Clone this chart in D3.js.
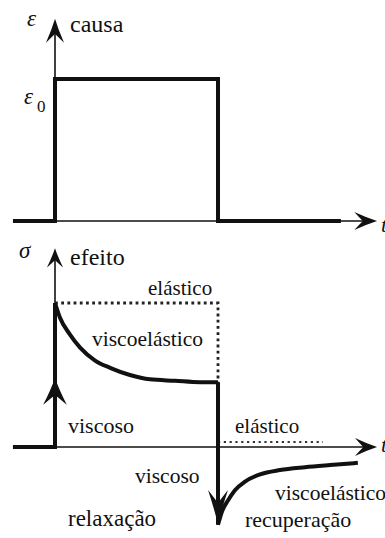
<!DOCTYPE html>
<html>
<head>
<meta charset="utf-8">
<script src="https://cdn.jsdelivr.net/npm/d3@7"></script>
<style>
  svg text { font-family: "Liberation Serif", serif !important; }
</style>
</head>
<body style="margin:0">
<svg id="fig" width="385" height="538"></svg>
<script>
// Time axis extent (arbitrary time units, load applied from t = 0 to t = 5)
const timeAxis = [-1.29, 9.88];

// Cause: applied strain step (ε / ε0)
const causeT      = [-1.29, 0, 0, 5, 5, 8.77];
const causeStrain = [0, 0, 1, 1, 0, 0];

// Effect: stress response (σ / σ_elastic)
const riseT = [-1.29, 0, 0];
const riseS = [0, 0, 1];
const relaxT = [0, 0.15, 0.46, 0.77, 1.23, 1.69, 2.30, 2.91, 3.68, 4.45, 5.00];
const relaxS = [1.00, 0.90, 0.78, 0.69, 0.60, 0.55, 0.50, 0.47, 0.46, 0.45, 0.45];
const dropT = [5, 5];
const dropS = [0.45, -0.54];
const recovT = [5.00, 5.12, 5.31, 5.52, 5.83, 6.29, 6.90, 7.67, 8.44, 9.29];
const recovS = [-0.54, -0.45, -0.37, -0.30, -0.24, -0.19, -0.16, -0.14, -0.125, -0.11];

// Ideal elastic response
const elasticT = [0, 5, 5];
const elasticS = [1, 1, 0];
const elasticRecT = [5, 8.22];
const elasticRecS = [0, 0];

// Arrow markers along the response path
const arrowT = [0, 5];
const arrowS = [0.48, -0.54];
const arrowDir = ["up", "down"];

const svg = d3.select("#fig");

const x = d3.scaleLinear().domain([0, 5]).range([55, 218]);
const yTop = d3.scaleLinear().domain([0, 1]).range([221, 79]);
const yBot = d3.scaleLinear().domain([0, 1]).range([447, 303]);

const zip = (a, b) => a.map((v, i) => [v, b[i]]);

// stealth-style arrowhead pointing to +x, tip at origin
const headPath = "M0,0 Q-11,-3.5 -24,-9.5 Q-18,-3 -15,0 Q-18,3 -24,9.5 Q-11,3.5 0,0 Z";

function arrowHead(g, px, py, angle, sx, sy) {
  g.append("path")
    .attr("d", headPath)
    .attr("fill", "#111")
    .attr("transform", `translate(${px},${py}) rotate(${angle}) scale(${sx},${sy})`);
}

function axes(y, yTopVal, sx, sy, vsx, vsy) {
  const g = svg.append("g");
  const x1 = x(timeAxis[1]);
  g.append("line")
    .attr("x1", x(0)).attr("x2", x1 - 6)
    .attr("y1", y(0)).attr("y2", y(0))
    .attr("stroke", "#111").attr("stroke-width", 1.6);
  arrowHead(g, x1, y(0), 0, sx, sy);
  const yt = y(yTopVal);
  g.append("line")
    .attr("x1", x(0)).attr("x2", x(0))
    .attr("y1", y(0)).attr("y2", yt + 6)
    .attr("stroke", "#111").attr("stroke-width", 1.6);
  arrowHead(g, x(0), yt, -90, vsx, vsy);
  return g;
}

// ---- Top panel: cause ----
axes(yTop, 1.425, 0.95, 0.95, 1.0, 0.95);

const lineTop = d3.line().x(d => x(d[0])).y(d => yTop(d[1]));
svg.append("path")
  .attr("d", lineTop(zip(causeT, causeStrain)))
  .attr("fill", "none").attr("stroke", "#111")
  .attr("stroke-width", 4).attr("stroke-linejoin", "miter");

// ---- Bottom panel: effect ----
axes(yBot, 1.38, 0.92, 0.95, 0.8, 0.85);

const lineBot = d3.line().x(d => x(d[0])).y(d => yBot(d[1]));
const smoothBot = d3.line().x(d => x(d[0])).y(d => yBot(d[1])).curve(d3.curveMonotoneX);

// elastic (dotted)
svg.append("path")
  .attr("d", lineBot(zip(elasticT, elasticS)))
  .attr("fill", "none").attr("stroke", "#222")
  .attr("stroke-width", 2.8).attr("stroke-dasharray", "2.8 3.4");
svg.append("path")
  .attr("d", lineBot(zip(elasticRecT, elasticRecS)))
  .attr("transform", "translate(0,-5)")
  .attr("fill", "none").attr("stroke", "#333")
  .attr("stroke-width", 2.2).attr("stroke-dasharray", "2.2 3.6");

function thickPath(d) {
  return svg.append("path").attr("d", d)
    .attr("fill", "none").attr("stroke", "#111")
    .attr("stroke-width", 4).attr("stroke-linejoin", "miter");
}
thickPath(lineBot(zip(riseT, riseS)));
thickPath(smoothBot(zip(relaxT, relaxS)));
thickPath(lineBot(zip([relaxT[relaxT.length - 1], ...dropT], [relaxS[relaxS.length - 1], ...dropS])));
thickPath(smoothBot(zip(recovT, recovS)));

arrowT.forEach((t, i) => {
  if (arrowDir[i] === "up") arrowHead(svg, x(t), yBot(arrowS[i]), -90, 1.12, 1.25);
  else arrowHead(svg, x(t), yBot(arrowS[i]), 90, 1.45, 1.05);
});

// ---- Labels ----
function label(txt, px, py, size, italic) {
  const t = svg.append("text")
    .attr("x", px).attr("y", py)
    .attr("font-family", "Liberation Serif")
    .attr("font-size", size)
    .attr("fill", "#111")
    .style("font-family", "'Liberation Serif', serif", "important")
    .text(txt);
  if (italic) t.attr("font-style", "italic").style("font-style", "italic");
  return t;
}

label("causa", 70, 32, 24);
label("0", 37, 112, 17);
label("efeito", 70, 265, 24);
label("elástico", 148, 295, 21);
label("viscoelástico", 92, 346, 21.5);
label("viscoso", 68, 433, 22);
label("elástico", 235, 433, 21);
label("viscoso", 135, 483, 21.5);
label("viscoelástico", 275, 500, 21.5);
label("relaxação", 68, 526, 23);
label("recuperação", 245, 527, 22);

label("ε", 27, 26, 23, true);
label("ε", 24, 104, 23, true);
label("t", 381, 232, 22, true);
label("σ", 19, 258, 23, true);
label("t", 381, 452, 22, true);
</script>
</body>
</html>
